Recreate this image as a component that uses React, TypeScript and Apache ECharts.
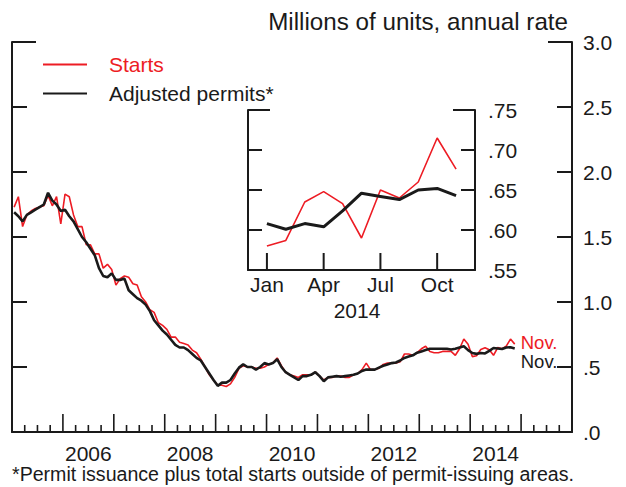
import React, { useEffect, useRef } from "react";
import * as echarts from "echarts";

// Monthly, Jan 2005 – Dec 2013 (millions of units, annual rate)
const starts2005to2013 = [
  1.73, 1.81, 1.58, 1.67, 1.70, 1.72, 1.73, 1.74, 1.82, 1.74, 1.81, 1.60,
  1.83, 1.81, 1.67, 1.58, 1.58, 1.44, 1.44, 1.37, 1.37, 1.26, 1.29, 1.25,
  1.13, 1.18, 1.20, 1.19, 1.14, 1.13, 1.04, 1.00, 0.94, 0.92, 0.84, 0.82,
  0.79, 0.73, 0.73, 0.69, 0.68, 0.67, 0.63, 0.61, 0.56, 0.50, 0.44, 0.40,
  0.36, 0.36, 0.35, 0.37, 0.42, 0.49, 0.51, 0.50, 0.50, 0.49, 0.49, 0.50,
  0.52, 0.53, 0.57, 0.51, 0.46, 0.44, 0.43, 0.42, 0.44, 0.44, 0.44, 0.46,
  0.43, 0.40, 0.42, 0.42, 0.43, 0.43, 0.42, 0.42, 0.44, 0.45, 0.48, 0.53,
  0.48, 0.48, 0.49, 0.52, 0.53, 0.53, 0.53, 0.54, 0.60, 0.60, 0.59, 0.61,
  0.64, 0.66, 0.62, 0.61, 0.61, 0.62, 0.62, 0.62, 0.59, 0.64, 0.715, 0.675,
];
const permits2005to2013 = [
  1.69, 1.66, 1.62, 1.67, 1.69, 1.71, 1.73, 1.75, 1.84, 1.78, 1.75, 1.70,
  1.71, 1.66, 1.62, 1.56, 1.50, 1.46, 1.41, 1.36, 1.26, 1.20, 1.19, 1.22,
  1.17, 1.17, 1.18, 1.09, 1.06, 1.03, 1.01, 0.98, 0.93, 0.86, 0.82, 0.78,
  0.75, 0.71, 0.67, 0.65, 0.65, 0.63, 0.60, 0.57, 0.55, 0.50, 0.45, 0.40,
  0.355, 0.38, 0.38, 0.40, 0.45, 0.495, 0.52, 0.50, 0.50, 0.48, 0.50, 0.53,
  0.52, 0.53, 0.56, 0.50, 0.46, 0.44, 0.42, 0.40, 0.43, 0.43, 0.44, 0.46,
  0.43, 0.39, 0.42, 0.425, 0.43, 0.425, 0.43, 0.435, 0.44, 0.45, 0.47, 0.48,
  0.48, 0.48, 0.495, 0.51, 0.52, 0.53, 0.535, 0.55, 0.57, 0.58, 0.59, 0.61,
  0.62, 0.63, 0.64, 0.64, 0.64, 0.64, 0.64, 0.635, 0.64, 0.65, 0.66, 0.63,
];

// 2014, Jan – Nov
const months2014 = ["Jan", "Feb", "Mar", "Apr", "May", "Jun", "Jul", "Aug", "Sep", "Oct", "Nov"];
const starts2014 = [0.580, 0.587, 0.635, 0.648, 0.633, 0.590, 0.650, 0.640, 0.660, 0.715, 0.676];
const permits2014 = [0.608, 0.601, 0.608, 0.604, 0.624, 0.646, 0.642, 0.638, 0.650, 0.652, 0.643];

// inset axis runs from December 2013 to December 2014
const insetCategories = ["Dec 2013", ...months2014, "Dec 2014"];
const insetTickMonths = ["Jan", "Apr", "Jul", "Oct"];

// main axis ticks: every quarter, long at year starts
const mainTicks = [
  2005.25, 2005.5, 2005.75, 2006, 2006.25, 2006.5, 2006.75, 2007, 2007.25, 2007.5, 2007.75,
  2008, 2008.25, 2008.5, 2008.75, 2009, 2009.25, 2009.5, 2009.75, 2010, 2010.25, 2010.5, 2010.75,
  2011, 2011.25, 2011.5, 2011.75, 2012, 2012.25, 2012.5, 2012.75, 2013, 2013.25, 2013.5, 2013.75,
  2014, 2014.25, 2014.5, 2014.75, 2015, 2015.25, 2015.5, 2015.75,
];
const yearLabels = [2006, 2008, 2010, 2012, 2014];

const RED = "#ed1c24";
const BLACK = "#1a1a1a";
const FONT = "'Liberation Sans', Arial, Helvetica, sans-serif";

export default function App() {
  const ref = useRef<HTMLDivElement>(null);

  useEffect(() => {
    if (!ref.current) return;
    const chart = echarts.init(ref.current, undefined, { renderer: "svg" });

    const startsAll = [...starts2005to2013, ...starts2014];
    const permitsAll = [...permits2005to2013, ...permits2014];
    const toDecYear = (i: number) => 2005 + (i + 0.5) / 12;
    const mainStarts = startsAll.map((v, i) => [toDecYear(i), v]);
    const mainPermits = permitsAll.map((v, i) => [toDecYear(i), v]);
    const insetStarts = starts2014.map((v, i) => [months2014[i], v]);
    const insetPermits = permits2014.map((v, i) => [months2014[i], v]);

    const axisLineStyle = { color: BLACK, width: 2 };
    const labelStyle = { color: BLACK, fontFamily: FONT, fontSize: 21 };

    const baseGraphic: any[] = [
      { type: "line", z: 100, shape: { x1: 12, y1: 42, x2: 36, y2: 42 }, style: { stroke: BLACK, lineWidth: 2 } },
      { type: "line", z: 100, shape: { x1: 548, y1: 42, x2: 572, y2: 42 }, style: { stroke: BLACK, lineWidth: 2 } },
      { type: "line", z: 100, shape: { x1: 248, y1: 110, x2: 270, y2: 110 }, style: { stroke: BLACK, lineWidth: 2 } },
      { type: "line", z: 100, shape: { x1: 453, y1: 110, x2: 475, y2: 110 }, style: { stroke: BLACK, lineWidth: 2 } },
      {
        type: "text",
        right: 58,
        top: 9,
        style: { text: "Millions of units, annual rate", fill: BLACK, font: `24.2px ${FONT}` },
      },
      {
        type: "text",
        left: 12,
        top: 464,
        style: {
          text: "*Permit issuance plus total starts outside of permit-issuing areas.",
          fill: BLACK,
          font: `19.6px ${FONT}`,
        },
      },
    ];

    const option: any = {
      animation: false,
      backgroundColor: "#ffffff",
      textStyle: { fontFamily: FONT },
      grid: [
        { left: 12, right: 54, top: 42, bottom: 55 },
        { left: 248, top: 110, width: 227, height: 160 },
      ],
      legend: {
        orient: "vertical",
        left: 38,
        top: 48.5,
        itemWidth: 44,
        itemHeight: 2,
        itemGap: 7,
        icon: "rect",
        selectedMode: false,
        textStyle: { fontSize: 21, lineHeight: 22, fontFamily: FONT, padding: [0, 0, 0, 17] },
        data: [
          { name: "Starts", textStyle: { color: RED } },
          { name: "Adjusted permits*", textStyle: { color: BLACK } },
        ],
      },
      xAxis: [
        {
          type: "value",
          gridIndex: 0,
          min: 2005,
          max: 2016,
          interval: 0.5,
          axisLine: { show: true, onZero: false, lineStyle: axisLineStyle },
          axisTick: { show: false },
          axisLabel: {
            ...labelStyle,
            margin: 12,
            lineHeight: 18,
            showMinLabel: true,
            showMaxLabel: true,
            formatter: (v: number) => {
              const y = Math.floor(v);
              return v - y === 0.5 && yearLabels.includes(y) ? String(y) : "";
            },
          },
          splitLine: { show: false },
        },
        {
          type: "category",
          gridIndex: 1,
          data: insetCategories,
          boundaryGap: false,
          axisLine: { show: true, onZero: false, lineStyle: axisLineStyle },
          axisTick: { show: false },
          axisLabel: {
            ...labelStyle,
            margin: 4,
            interval: (idx: number) => insetTickMonths.includes(insetCategories[idx]),
          },
          splitLine: { show: false },
          name: "2014",
          nameLocation: "middle",
          nameGap: 30,
          nameTextStyle: { ...labelStyle, padding: [0, 9, 0, 0] },
        },
      ],
      yAxis: [
        {
          type: "value",
          gridIndex: 0,
          position: "left",
          min: 0,
          max: 3,
          interval: 0.5,
          axisLine: { show: true, lineStyle: axisLineStyle },
          axisTick: { show: true, inside: true, length: 15, lineStyle: { color: BLACK, width: 2 } },
          axisLabel: { show: false },
          splitLine: { show: false },
        },
        {
          type: "value",
          gridIndex: 0,
          position: "right",
          min: 0,
          max: 3,
          interval: 0.5,
          axisLine: { show: true, lineStyle: axisLineStyle },
          axisTick: { show: true, inside: true, length: 15, lineStyle: { color: BLACK, width: 2 } },
          axisLabel: {
            ...labelStyle,
            margin: 11,
            formatter: (v: number) => v.toFixed(1).replace(/^0/, ""),
          },
          splitLine: { show: false },
        },
        {
          type: "value",
          gridIndex: 1,
          position: "left",
          min: 0.55,
          max: 0.75,
          interval: 0.05,
          axisLine: { show: true, lineStyle: axisLineStyle },
          axisTick: { show: true, inside: true, length: 14, lineStyle: { color: BLACK, width: 2 } },
          axisLabel: { show: false },
          splitLine: { show: false },
        },
        {
          type: "value",
          gridIndex: 1,
          position: "right",
          min: 0.55,
          max: 0.75,
          interval: 0.05,
          axisLine: { show: true, lineStyle: axisLineStyle },
          axisTick: { show: true, inside: true, length: 14, lineStyle: { color: BLACK, width: 2 } },
          axisLabel: {
            ...labelStyle,
            margin: 13,
            formatter: (v: number) => v.toFixed(2).replace(/^0/, ""),
          },
          splitLine: { show: false },
        },
      ],
      graphic: baseGraphic,
      series: [
        {
          name: "Starts",
          type: "line",
          xAxisIndex: 0,
          yAxisIndex: 1,
          data: mainStarts,
          showSymbol: false,
          itemStyle: { color: RED },
          lineStyle: { color: RED, width: 1.6 },
          endLabel: {
            show: true,
            formatter: "Nov.",
            color: RED,
            fontSize: 18.5,
            lineHeight: 14,
            fontFamily: FONT,
            distance: 6,
            offset: [0, -2],
          },
          z: 2,
        },
        {
          name: "Adjusted permits*",
          type: "line",
          xAxisIndex: 0,
          yAxisIndex: 1,
          data: mainPermits,
          showSymbol: false,
          itemStyle: { color: BLACK },
          lineStyle: { color: BLACK, width: 2.6 },
          endLabel: {
            show: true,
            formatter: "Nov.",
            color: BLACK,
            fontSize: 18.5,
            lineHeight: 14,
            fontFamily: FONT,
            distance: 6,
            offset: [0, 13],
          },
          z: 3,
        },
        {
          name: "Starts",
          type: "line",
          xAxisIndex: 1,
          yAxisIndex: 3,
          data: insetStarts,
          showSymbol: false,
          itemStyle: { color: RED },
          lineStyle: { color: RED, width: 1.6 },
          z: 2,
        },
        {
          name: "Adjusted permits*",
          type: "line",
          xAxisIndex: 1,
          yAxisIndex: 3,
          data: insetPermits,
          showSymbol: false,
          itemStyle: { color: BLACK },
          lineStyle: { color: BLACK, width: 3 },
          z: 3,
        },
      ],
    };

    chart.setOption(option);

    // Bottom-axis ticks drawn as one comb-shaped polyline per axis,
    // positioned through the chart's own axis scales.
    const inRange = (p: any) =>
      Array.isArray(p) && isFinite(p[0]) && isFinite(p[1]) && p[0] >= 0 && p[0] <= 626 && p[1] >= 0 && p[1] <= 487;
    const mainFinder: any = { xAxisIndex: 0, yAxisIndex: 1 };
    const insetFinder: any = { xAxisIndex: 1, yAxisIndex: 3 };
    const mainPx = (x: number) => {
      const p = chart.convertToPixel(mainFinder, [x, 0]);
      return inRange(p) ? (p as number[]) : [12 + ((x - 2005) / 11) * 560, 432];
    };
    const insetPx = (m: string) => {
      const p = chart.convertToPixel(insetFinder, [m, 0.55] as any);
      return inRange(p) ? (p as number[]) : [248 + (insetCategories.indexOf(m) / 12) * 227, 270];
    };

    const mainComb: number[][] = [];
    mainTicks.forEach((x) => {
      const p = mainPx(x);
      const len = Number.isInteger(x) ? 18 : 7;
      mainComb.push([p[0], p[1]], [p[0], p[1] - len], [p[0], p[1]]);
    });
    const insetComb: number[][] = [];
    insetTickMonths.forEach((m) => {
      const p = insetPx(m);
      insetComb.push([p[0], p[1]], [p[0], p[1] - 17], [p[0], p[1]]);
    });

    chart.setOption({
      graphic: [
        ...baseGraphic,
        {
          type: "polyline",
          z: 100,
          silent: true,
          shape: { points: mainComb },
          style: { stroke: BLACK, lineWidth: 1.6, fill: null },
        },
        {
          type: "polyline",
          z: 100,
          silent: true,
          shape: { points: insetComb },
          style: { stroke: BLACK, lineWidth: 2, fill: null },
        },
      ],
    });

    return () => chart.dispose();
  }, []);

  return (
    <div
      ref={ref}
      style={{ position: "fixed", left: 0, top: 0, width: 626, height: 487, background: "#fff" }}
    />
  );
}
